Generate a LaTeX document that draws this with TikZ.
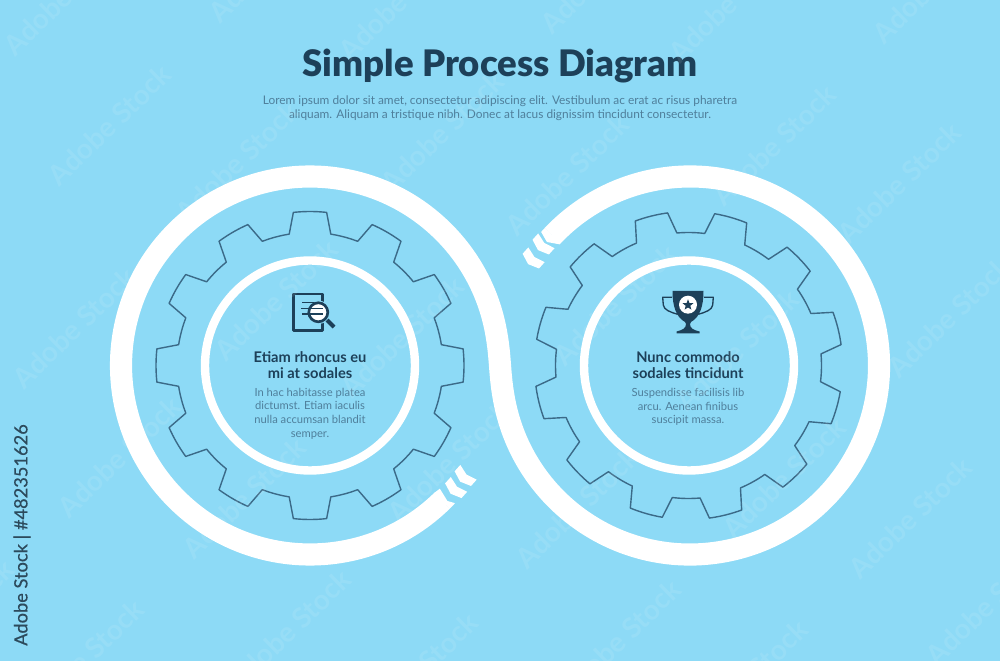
\documentclass[tikz,border=0pt]{standalone}
\usepackage{fontspec}
\setmainfont{Lato}
\newfontfamily\blackfont{Lato Black}
\usetikzlibrary{calc,shapes.geometric}
\definecolor{skyback}{HTML}{8DDAF6}
\definecolor{navytext}{HTML}{1D4059}
\definecolor{greytext}{HTML}{4F7F9B}
\definecolor{gearblue}{HTML}{3B6A88}
\definecolor{sidetext}{HTML}{2C4A5C}
\begin{document}
\begin{tikzpicture}[x=0.75pt,y=0.75pt,line join=round,
	bandline/.style={white,line width=16.6pt},
	ringline/.style={white,line width=6.3pt},
	gearline/.style={gearblue,line width=1.05pt},
	iconline/.style={navytext,line width=2.1pt},
	headtext/.style={navytext,align=center,inner sep=0pt,font=\fontsize{11}{12}\selectfont\bfseries},
	bodytext/.style={greytext,align=center,inner sep=0pt,font=\fontsize{8.4}{10.2}\selectfont},
	marktext/.style={white,opacity=0.09,anchor=west,rotate=44,inner sep=0pt,font=\fontsize{21}{23}\selectfont\bfseries}]
	\useasboundingbox (0,0) rectangle (1000,661);
	\fill[skyback] (0,0) rectangle (1000,661);
	\clip (0,0) rectangle (1000,661);
	\coordinate (LC) at (310,295.5);
	\coordinate (RC) at (690,295.5);
	\coordinate (SR) at ($(RC)+(192:189)$);
	% the long band
	\draw[bandline] (LC) ++(-45.6:189) arc[start angle=-45.6,end angle=-348,radius=189]
		.. controls +(-78:32) and +(102:32) .. (SR)
		arc[start angle=192,end angle=496.6,radius=189];
	\fill[white,shift={(LC)}] (-45.7:178) -- (-43.5:179) -- (-44.6:193) -- (-43.5:200) -- (-45.7:200) -- cycle;
	\fill[white,shift={(RC)}] (136.5:178) -- (137.1:178) -- (139.2:189) -- (138.1:200) -- (136.5:200) -- cycle;
	% chevrons
	\foreach \x/\y in {464.8/184.6,455.3/172.5,542.7/416.1,532.8/402.1}
		\fill[white,shift={(\x,\y)},rotate=228] (-5.5,-11) -- (-2.5,0) -- (-5.5,11) -- (3,11) -- (7,0) -- (3,-11) -- cycle;
	% gears and inner rings
	\foreach \c/\r in {(310,295.5)/0,(688.5,295.5)/14}{
		\draw[gearline,shift={\c},rotate=\r] (-9:133) \foreach \a in {0,30,...,330}{
			-- (\a-6.2:154) arc[start angle=\a-6.2,end angle=\a+6.2,radius=154]
			-- (\a+9:133) arc[start angle=\a+9,end angle=\a+21,radius=133]} -- cycle;
	}
	\draw[ringline] (310,295.5) circle (105);
	\draw[ringline] (689,295.5) circle (105);
	% document icon
	\draw[iconline] (293.7,330.7) rectangle (322.6,367);
	\draw[skyback,line width=3.4pt] (318.3,348.7) circle (9.5);
	\draw[navytext,fill=white,line width=2pt] (318.3,348.7) circle (9.5);
	\draw[navytext,line width=3pt] (327,341) -- (334,334);
	\draw[navytext,line width=1pt] (302,358.3) -- (314,358.3);
	\draw[navytext,line width=1pt] (301,352.7) -- (323,352.7);
	\draw[navytext,line width=1pt] (302,347) -- (323,347);
	% cup icon
	\draw[navytext,line width=1pt] (672,363.7) -- (662.7,363.7) -- (663.3,356) .. controls (664,351) and (670,349) .. (677.7,346.7);
	\draw[navytext,line width=1pt] (704,363.7) -- (713.3,363.7) -- (712.7,356) .. controls (712,351) and (706,349) .. (698.3,346.7);
	\fill[navytext] (672.5,370) -- (703.5,370) .. controls (703.5,355) and (700,344) .. (691,339) -- (690,337)
		.. controls (690,333) and (693,331) .. (699.5,329.5) -- (699.5,327.7) -- (676.5,327.7) -- (676.5,329.5)
		.. controls (683,331) and (686,333) .. (686,337) -- (685,339) .. controls (676,344) and (672.5,355) .. (672.5,370) -- cycle;
	\fill[white] (688,356.3) circle (9);
	\node[star,star points=5,star point ratio=2.3,fill=navytext,inner sep=0pt,minimum size=8.5pt] (cupstar) at (688,356) {};
	% texts
	\node[navytext,inner sep=0pt,font=\fontsize{27.4}{29}\selectfont\blackfont] (title) at (500,595) {Simple Process Diagram};
	\node[greytext,align=center,inner sep=0pt,font=\fontsize{8.9}{10.5}\selectfont] (subtitle) at (500,553) {Lorem ipsum dolor sit amet, consectetur adipiscing elit. Vestibulum ac erat ac risus pharetra\\aliquam. Aliquam a tristique nibh. Donec at lacus dignissim tincidunt consectetur.};
	\node[headtext] (headleft) at (310,296) {Etiam rhoncus eu\\mi at sodales};
	\node[bodytext] (bodyleft) at (310,247.5) {In hac habitasse platea\\dictumst. Etiam iaculis\\nulla accumsan blandit\\semper.};
	\node[headtext] (headright) at (688,296) {Nunc commodo\\sodales tincidunt};
	\node[bodytext] (bodyright) at (688,254) {Suspendisse facilisis lib\\arcu. Aenean finibus\\suscipit massa.};
	\node[sidetext,rotate=90,inner sep=0pt,font=\fontsize{13.7}{15}\selectfont\addfontfeature{FakeBold=0.4}] (stockline) at (22,126) {Adobe Stock | \#482351626};
	% faint marks
	\foreach \x/\y [count=\i] in {8/611,52/481,180/444,343/606,213/644,385/474,17/278,219/306,345/269,510/431,545/633,673/604,717/461,877/623,842/423,892/289,680/256,558/301,727/128,520/98,853/88,562/-34,689/-74,930/1,62/149,187/108,392/144,25/-54,232/-24,359/-67,-105/-14}
		\node[marktext] (mark\i) at (\x,\y) {Adobe Stock};
\end{tikzpicture}
\end{document}
